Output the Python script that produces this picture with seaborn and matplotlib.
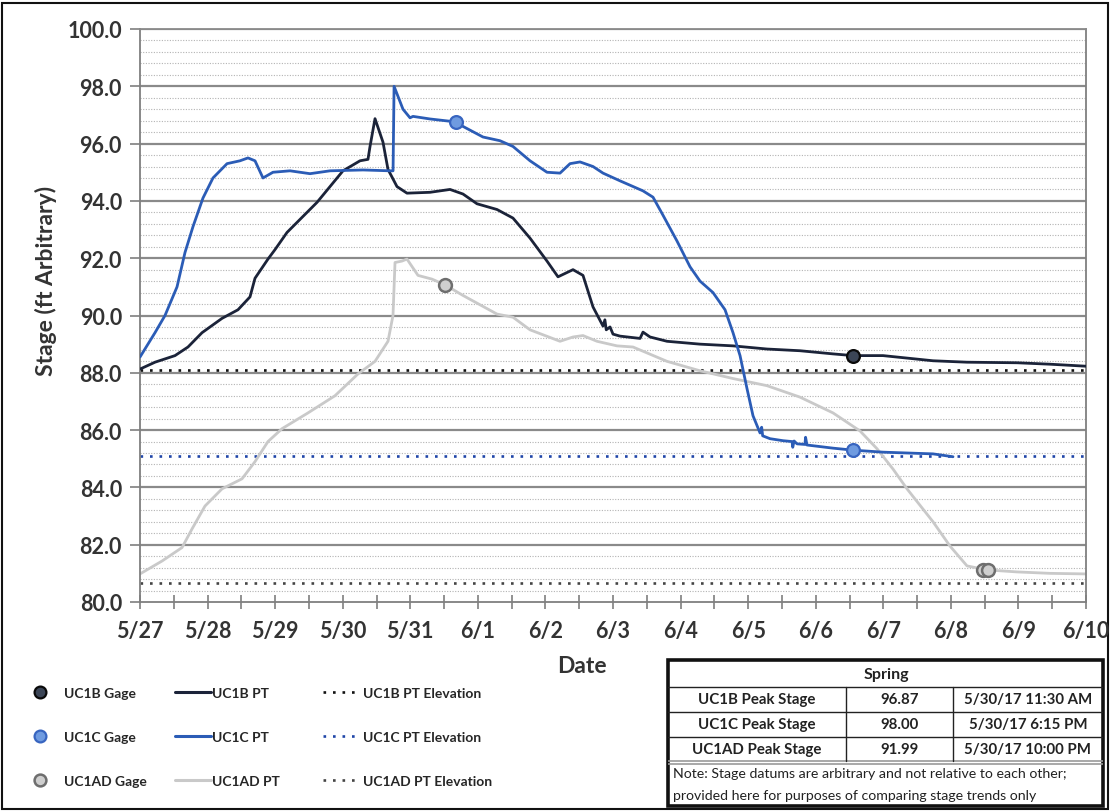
import numpy as np
import pandas as pd
import matplotlib
matplotlib.use("Agg")
import matplotlib.pyplot as plt
from matplotlib.patches import Rectangle
from matplotlib.lines import Line2D
import seaborn as sns

# ---------------- data (days since 5/27 00:00, stage in ft) ----------------
date_labels = ["5/27", "5/28", "5/29", "5/30", "5/31", "6/1", "6/2", "6/3",
               "6/4", "6/5", "6/6", "6/7", "6/8", "6/9", "6/10"]

uc1c_day = [0.000, 0.222, 0.370, 0.548, 0.666, 0.784, 0.932, 1.080, 1.288, 1.480,
            1.598, 1.702, 1.820, 1.968, 2.220, 2.516, 2.812, 3.300, 3.700, 3.745,
            3.760, 3.892, 3.996, 4.040, 4.292, 4.588, 4.780, 5.076, 5.328, 5.520,
            5.772, 6.023, 6.216, 6.364, 6.512, 6.704, 6.852, 7.104, 7.444, 7.592,
            7.740, 7.947, 8.140, 8.288, 8.480, 8.658, 8.776, 8.880, 8.983, 9.072,
            9.176, 9.200, 9.215, 9.324, 9.516, 9.650, 9.660, 9.680, 9.723, 9.840,
            9.850, 9.870, 10.256, 10.552, 10.996, 11.736, 12.032]
uc1c_pt = [88.55, 89.40, 90.00, 91.00, 92.20, 93.10, 94.10, 94.80, 95.30, 95.40,
           95.50, 95.40, 94.80, 95.00, 95.05, 94.95, 95.05, 95.08, 95.05, 95.05,
           98.00, 97.20, 96.90, 96.95, 96.86, 96.78, 96.60, 96.23, 96.10, 95.90,
           95.40, 95.00, 94.97, 95.30, 95.36, 95.20, 94.97, 94.70, 94.35, 94.13,
           93.50, 92.60, 91.70, 91.20, 90.80, 90.20, 89.40, 88.60, 87.45, 86.50,
           85.90, 86.10, 85.80, 85.70, 85.63, 85.60, 85.40, 85.62, 85.52, 85.50,
           85.75, 85.48, 85.37, 85.30, 85.23, 85.17, 85.07]

uc1b_day = [0.000, 0.222, 0.518, 0.710, 0.918, 1.214, 1.450, 1.628, 1.702, 1.894,
            1.998, 2.176, 2.472, 2.620, 2.812, 3.004, 3.256, 3.374, 3.404, 3.478,
            3.596, 3.670, 3.803, 3.951, 4.292, 4.588, 4.780, 4.987, 5.283, 5.520,
            5.772, 6.023, 6.186, 6.408, 6.556, 6.704, 6.852, 6.880, 6.900, 6.956,
            7.000, 7.104, 7.400, 7.444, 7.548, 7.799, 8.288, 8.776, 9.279, 9.768,
            10.256, 10.552, 10.996, 11.736, 12.239, 12.979, 13.468, 14.000]
uc1b_pt = [88.13, 88.37, 88.60, 88.90, 89.40, 89.90, 90.20, 90.65, 91.30, 91.97,
           92.30, 92.90, 93.60, 93.95, 94.50, 95.05, 95.40, 95.45, 95.90, 96.87,
           96.05, 95.10, 94.50, 94.27, 94.30, 94.40, 94.24, 93.90, 93.70, 93.40,
           92.70, 91.90, 91.35, 91.60, 91.40, 90.30, 89.63, 89.85, 89.50, 89.60,
           89.35, 89.28, 89.20, 89.42, 89.25, 89.10, 89.00, 88.94, 88.83, 88.77,
           88.66, 88.60, 88.60, 88.42, 88.37, 88.35, 88.30, 88.23]

uc1ad_day = [0.000, 0.326, 0.622, 0.770, 0.962, 1.214, 1.510, 1.702, 1.894, 2.102,
             2.486, 2.886, 3.226, 3.478, 3.670, 3.744, 3.774, 3.877, 3.951, 4.114,
             4.321, 4.514, 4.780, 5.283, 5.520, 5.772, 6.216, 6.408, 6.556, 6.763,
             7.059, 7.296, 7.799, 8.288, 8.776, 9.279, 9.768, 10.256, 10.656, 10.907,
             11.144, 11.351, 11.736, 11.988, 12.239, 12.535, 12.979, 13.468, 14.000]
uc1ad_pt = [80.98, 81.43, 81.90, 82.55, 83.35, 83.95, 84.30, 84.90, 85.60, 86.05,
            86.60, 87.20, 87.96, 88.40, 89.10, 90.00, 91.85, 91.90, 91.97, 91.40,
            91.27, 91.07, 90.70, 90.05, 89.94, 89.50, 89.10, 89.25, 89.30, 89.10,
            88.94, 88.90, 88.40, 88.07, 87.80, 87.55, 87.15, 86.60, 85.97, 85.35,
            84.64, 83.95, 82.80, 81.95, 81.26, 81.12, 81.05, 81.00, 80.98]

uc1b_gage_day = [10.55]
uc1b_gage = [88.60]
uc1c_gage_day = [4.68, 10.55]
uc1c_gage = [96.75, 85.30]
uc1ad_gage_day = [4.51, 12.48, 12.55]
uc1ad_gage = [91.07, 81.12, 81.12]

uc1b_elev = 88.10
uc1c_elev = 85.10
uc1ad_elev = 80.65

table_rows = ["UC1B Peak Stage", "UC1C Peak Stage", "UC1AD Peak Stage"]
table_vals = ["96.87", "98.00", "91.99"]
table_times = ["5/30/17 11:30 AM", "5/30/17 6:15 PM", "5/30/17 10:00 PM"]
table_title = "Spring"
table_note = ["Note: Stage datums are arbitrary and not relative to each other;",
              "provided here for purposes of comparing stage trends only"]

# ---------------- style ----------------
sns.set_theme(style="white")
plt.rcParams["font.family"] = ["Lato", "DejaVu Sans"]

C_NAVY = "#1b2339"
C_BLUE = "#2b5cb6"
C_GRAY = "#c9c9c9"
TXT = "#333333"

fig = plt.figure(figsize=(11.12, 8.12), dpi=100)
ax = fig.add_axes([140 / 1112, 1 - 603 / 812, 946 / 1112, 573 / 812])

# grid
for yv in np.arange(80.4, 100.0, 0.4):
    if abs(yv / 2 - round(yv / 2)) > 0.01:
        ax.axhline(yv, color="#b3b3b3", lw=0.8, ls=(0, (1, 1.4)), zorder=0)
for yv in np.arange(82, 100.1, 2):
    ax.axhline(yv, color="#8a8a8a", lw=1.6, zorder=0.5)

dot = (0, (1, 2.6))
ax.axhline(uc1b_elev, color="#111111", lw=1.9, ls=dot, zorder=1)
ax.axhline(uc1c_elev, color="#1f45a8", lw=1.9, ls=dot, zorder=1)
ax.axhline(uc1ad_elev, color="#444444", lw=1.9, ls=dot, zorder=1)

df_b = pd.DataFrame({"day": uc1b_day, "stage": uc1b_pt})
df_c = pd.DataFrame({"day": uc1c_day, "stage": uc1c_pt})
df_a = pd.DataFrame({"day": uc1ad_day, "stage": uc1ad_pt})
sns.lineplot(data=df_a, x="day", y="stage", ax=ax, color=C_GRAY, lw=2.0,
             sort=False, estimator=None, zorder=2)
sns.lineplot(data=df_b, x="day", y="stage", ax=ax, color=C_NAVY, lw=2.0,
             sort=False, estimator=None, zorder=3)
sns.lineplot(data=df_c, x="day", y="stage", ax=ax, color=C_BLUE, lw=2.0,
             sort=False, estimator=None, zorder=4)

sns.scatterplot(x=uc1b_gage_day, y=uc1b_gage, ax=ax, s=85, color="#3b4556",
                edgecolor="#0a0a0a", linewidth=1.6, zorder=6)
sns.scatterplot(x=uc1c_gage_day, y=uc1c_gage, ax=ax, s=85, color="#6f9be0",
                edgecolor="#3865c0", linewidth=1.6, zorder=6)
sns.scatterplot(x=uc1ad_gage_day, y=uc1ad_gage, ax=ax, s=85, color="#cfcfcf",
                edgecolor="#6e6e6e", linewidth=1.8, zorder=6)

ax.set_xlim(0, 14)
ax.set_ylim(80, 100)
ax.set_xticks(np.arange(0, 15, 1))
ax.set_xticklabels(date_labels)
ax.set_xticks(np.arange(0.5, 14, 1), minor=True)
ax.set_yticks(np.arange(80, 100.1, 2))
ax.set_yticklabels([f"{v:.1f}" for v in np.arange(80, 100.1, 2)])
ax.tick_params(axis="x", which="both", direction="inout", length=10, width=1.2,
               color="#7f7f7f", bottom=True, labelsize=15.5, labelcolor=TXT, pad=8)
ax.tick_params(axis="y", which="major", direction="out", length=7, width=1.2,
               color="#7f7f7f", left=True, labelsize=15.5, labelcolor=TXT, pad=6)
for lab in ax.get_xticklabels() + ax.get_yticklabels():
    lab.set_fontweight("bold")
for sp in ax.spines.values():
    sp.set_color("#7f7f7f")
    sp.set_linewidth(1.3)
ax.spines["top"].set_color("#8a8a8a")

ax.set_xlabel("Date", fontsize=16.5, fontweight="bold", color=TXT)
ax.xaxis.set_label_coords(0.467, -0.093)
ax.set_ylabel("Stage (ft Arbitrary)", fontsize=16.5, fontweight="bold", color=TXT)
ax.yaxis.set_label_coords(-0.088, 0.562)
if ax.get_legend() is not None:
    ax.get_legend().remove()

# ---------------- legends (three columns) ----------------
def mk(face, edge, ew):
    return Line2D([], [], ls="none", marker="o", markersize=8.5,
                  markerfacecolor=face, markeredgecolor=edge, markeredgewidth=ew)

col1 = [mk("#3b4556", "#0a0a0a", 1.6), mk("#6f9be0", "#3865c0", 1.6), mk("#cfcfcf", "#6e6e6e", 1.8)]
col2 = [Line2D([], [], color=C_NAVY, lw=2.2), Line2D([], [], color=C_BLUE, lw=2.2),
        Line2D([], [], color=C_GRAY, lw=2.2)]
col3 = [Line2D([], [], color="#111111", lw=1.9, ls=dot), Line2D([], [], color="#1f45a8", lw=1.9, ls=dot),
        Line2D([], [], color="#444444", lw=1.9, ls=dot)]
labs1 = ["UC1B Gage", "UC1C Gage", "UC1AD Gage"]
labs2 = ["UC1B PT", "UC1C PT", "UC1AD PT"]
labs3 = ["UC1B PT Elevation", "UC1C PT Elevation", "UC1AD PT Elevation"]
for handles, labs, xl, hl, tp in [(col1, labs1, 22, 2.6, 0.45), (col2, labs2, 175, 2.6, 0.1),
                                  (col3, labs3, 323, 2.6, 0.25)]:
    lg = fig.legend(handles, labs, loc="upper left", bbox_to_anchor=(xl / 1112, 1 - 688 / 812),
                    frameon=False, borderpad=0, borderaxespad=0, handlelength=hl,
                    handletextpad=tp, labelspacing=2.3,
                    prop={"family": ["Lato", "DejaVu Sans"], "weight": "bold", "size": 10})
    for t in lg.get_texts():
        t.set_color("#262626")

# ---------------- table ----------------
tx0, tx1, ty0, ty1 = 668, 1103, 661, 807
tax = fig.add_axes([tx0 / 1112, 1 - ty1 / 812, (tx1 - tx0) / 1112, (ty1 - ty0) / 812])
tax.set_xlim(tx0, tx1)
tax.set_ylim(ty1, ty0)
tax.axis("off")
tax.add_patch(Rectangle((tx0, ty0), tx1 - tx0, ty1 - ty0, fill=True, facecolor="white",
                        edgecolor="#111111", lw=2.6, clip_on=False))
for yl in [688, 713, 738]:
    tax.plot([tx0, tx1], [yl, yl], color="#222222", lw=1.0)
tax.plot([tx0, tx1], [762, 762], color="#9a9a9a", lw=1.2)
tax.plot([tx0, tx1], [764.5, 764.5], color="#9a9a9a", lw=1.2)
for xl in [846, 953]:
    tax.plot([xl, xl], [688, 762], color="#222222", lw=1.0)
tf = {"family": ["Lato", "DejaVu Sans"], "weight": "bold", "size": 10.8}
tax.text(886, 675, table_title, ha="center", va="center", color="#222222",
         family=["Lato", "DejaVu Sans"], weight="bold", size=11.5)
for i, yc in enumerate([700.5, 725.5, 750.5]):
    tax.text(757, yc, table_rows[i], ha="center", va="center", color="#222222", **tf)
    tax.text(899.5, yc, table_vals[i], ha="center", va="center", color="#222222", **tf)
    tax.text(1028, yc, table_times[i], ha="center", va="center", color="#222222", **tf)
for j, yc in enumerate([774.5, 796]):
    tax.text(673, yc, table_note[j], ha="left", va="center", color="#222222",
             family=["Lato", "DejaVu Sans"], size=10.2)

# figure frame
fig.patches.append(Rectangle((2 / 1112, 2 / 812), 1106 / 1112, 806 / 812, transform=fig.transFigure,
                             fill=False, edgecolor="#111111", lw=1.5, zorder=-1))

fig.savefig("out.png", dpi=100, facecolor="white")
